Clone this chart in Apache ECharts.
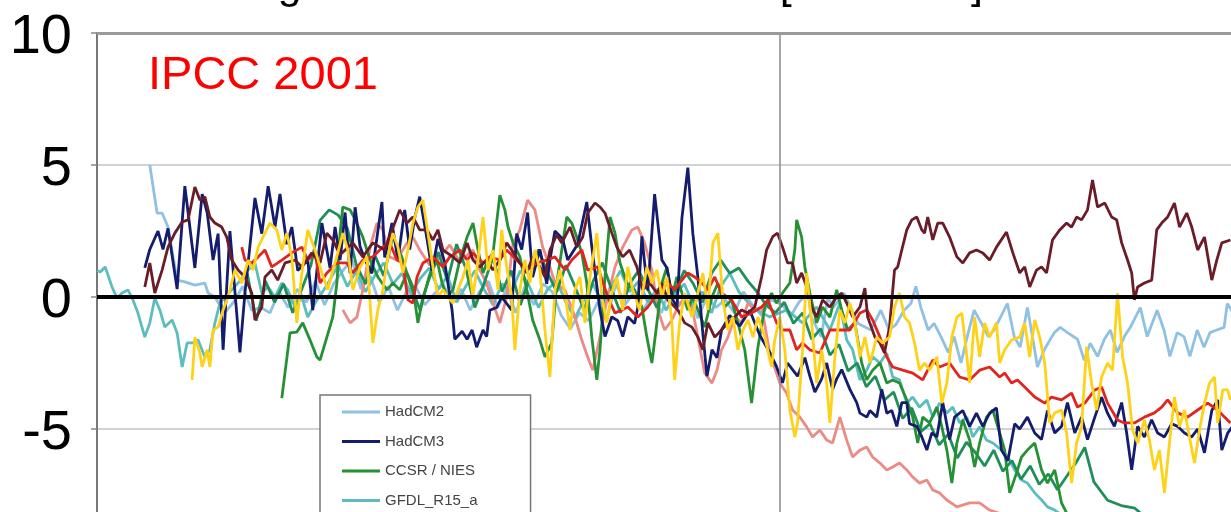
<!DOCTYPE html>
<html><head><meta charset="utf-8">
<script src="https://cdn.jsdelivr.net/npm/echarts@6/dist/echarts.min.js"></script>
<style>html,body{margin:0;padding:0;background:#fff;overflow:hidden}#chart{width:1231px;height:512px}</style>
</head><body><div id="chart"></div>
<script>
const titleText = 'Change in Arctic sea ice extent [1000 km²]';
const stampText = 'IPCC 2001';
const seriesNames = ['HadCM2', 'HadCM3', 'CCSR / NIES', 'GFDL_R15_a', 'CSIRO_Mk2', 'ECHAM4/OPYC3', 'CGCM1', 'NCAR_PCM', 'DOE_PCM'];
const legendNames = ['HadCM2', 'HadCM3', 'CCSR / NIES', 'GFDL_R15_a'];
const yMin = -10, yMax = 10, yStep = 5;
const xMin = 1850, xMax = 2100, markYear = 2000;

const hadcm2 = [[1861.6,5.0],[1863.2,3.18],[1864.3,3.18],[1865.6,2.65],[1867.6,0.64],[1869.3,0.57],[1871.5,0.45],[1873.7,0.53],[1874.4,0.15],[1875.9,0],
[1878,-0.6],[1880,-0.2],[1882,0.4],[1884,-0.5],[1886,-0.4],[1888,-0.6],[1890,0.2],[1892,-0.4],[1894,0.3],[1896,-0.2],[1898,0.6],[1900,-0.3],[1902,0.5],[1904,1.0],[1906,1.4],[1908,0.3],[1910,0.8],[1912,-0.2],[1914,0.4],[1916,-0.5],[1918,0.2],[1920,0.4],[1922,-0.3],[1924,0.1],[1926,0.5],[1928,-0.2],[1930,0.3],[1932,-0.5],[1934,0.2],[1936,0.6],[1938,-0.4],[1940,0.3],[1942,-0.6],[1944,0.4],[1946,-0.3],[1948,0.5],[1950,0.2],[1952,-0.7],[1954,-1.2],[1956,-0.6],[1958,-0.9],[1960,-0.2],[1962,-0.8],[1964,0.5],[1966,-0.3],[1968,0.2],[1970,-0.5],[1972,0.1],[1974,-0.6],[1976,0.4],[1978,-0.3],[1980,0.1],[1982,-0.8],[1984,0.0],[1986,-0.4],[1988,-0.1],[1990,-0.6],[1992,0.2],[1994,-0.3],[1996,-0.7],[1998,-0.1],
[2000.6,-0.3],[2002.3,-0.75],[2004.2,-0.2],[2006.2,0.15],[2006.9,-0.75],[2009.1,-1.5],[2010.6,0],[2011.7,-0.4],[2014.1,0.15],[2017.2,-1.0],[2020,-1.25],[2022.2,-0.5],[2024,-1.25],[2025.5,-1.05],[2027.3,-0.5],[2028.8,-0.25],[2029.9,0.4],[2031,-0.4],[2032.6,-1.25],[2033.9,-1.0],[2035.4,-1.5],[2037,-2.1],[2038.3,-1.5],[2039.8,-2.5],[2041.4,-1.35],[2042.7,-0.5],[2044.3,-1.0],[2045.8,-1.5],[2047.1,-1.25],[2047.8,-1.0],[2050,-0.25],[2051.5,-1.5],[2052.8,-1.9],[2054.4,-0.4],[2055.9,-1.9],[2056.6,-2.65],[2058.1,-2.0],[2060.3,-1.35],[2061.6,-1.15],[2063.2,-1.35],[2065.4,-1.6],[2066.9,-2.4],[2068.2,-1.75],[2069.8,-2.25],[2071.3,-1.6],[2072.6,-1.25],[2074.1,-2.1],[2075.7,-1.5],[2077,-1.15],[2079.2,-0.4],[2080.7,-1.5],[2082.9,-0.5],[2084.4,-1.25],[2085.7,-2.25],[2087.3,-1.35],[2088.8,-1.5],[2090.1,-2.25],[2091.7,-1.25],[2093.2,-1.9],[2094.5,-1.35],[2096,-1.25],[2097.6,-1.15],[2098.3,-0.25],[2099.6,-0.6]];

const hadcm3 = [[1860.5,1.1],[1861.6,1.8],[1863.4,2.5],[1864.5,1.8],[1865.6,2.6],[1867.6,0.3],[1869.3,4.2],[1871.5,1.1],[1873.1,3.9],[1874.2,3.2],[1875.5,1.4],[1876.6,2.4],[1877.7,-2.0],[1879.2,2.5],[1881.4,-2.1],[1882.5,0.15],[1884.7,3.75],[1886.2,2.4],[1887.6,4.2],[1889.1,2.65],[1890.2,3.9],[1891.7,2.0],[1892.8,2.65],[1894.1,1.0],[1896.3,1.4],[1897.4,-0.5],[1899.4,2.8],[1901.2,1.1],[1902.3,2.65],[1903.4,1.4],[1904.5,3.2],[1905.6,0.9],[1906.7,3.4],[1907.8,1.9],[1908.9,1.4],[1910.4,0.9],[1912.6,3.6],[1913.2,1.5],[1914.8,2.8],[1916.1,1.4],[1917.6,3.3],[1918.7,1.8],[1919.8,3.0],[1920.9,3.8],[1922.5,2.2],[1923.6,1.0],[1924.9,2.2],[1926.4,1.3],[1928.0,-0.5],[1928.6,-1.6],[1930.2,-1.3],[1931.3,-1.6],[1932.4,-1.25],[1933.4,-1.9],[1934.8,-1.25],[1935.6,-1.5],[1936.3,-0.5],[1937.8,-0.4],[1938.9,0],[1941.1,-0.5],[1942.2,2.4],[1943.3,1.8],[1944.6,3.2],[1945.7,0.75],[1947.3,1.8],[1948.8,0.5],[1949.5,1.4],[1950.6,2.5],[1952.3,2.2],[1953.4,1.4],[1955.6,2.0],[1957.6,3.6],[1958.7,1.9],[1960.5,-0.5],[1961.6,-1.5],[1963.1,-0.75],[1964.4,-0.9],[1965.5,-1.5],[1966.6,-0.75],[1968.1,-1.0],[1968.8,-0.4],[1969.7,2.3],[1970.3,1.3],[1971.0,0.25],[1972.5,3.9],[1974.1,1.4],[1975.2,1.1],[1976.5,-0.1],[1977.4,-0.4],[1978.5,3.0],[1979.8,4.9],[1980.9,2.4],[1982.0,0.75],[1983.1,-1.4],[1984.0,-3.0],[1985.1,-2.0],[1986.2,-2.3],[1987.2,-1.25],[1989.0,-0.7],[1991.2,-1.1],[1993.4,-0.5],[1995.6,-1.45],[1997.8,-2.1],[1999.3,-2.65],[2000.6,-3.25],[2001.7,-2.5],[2002.8,-2.75],[2003.9,-3.0],[2005.5,-2.3],[2006.6,-3.0],[2007.7,-3.6],[2009.2,-3.1],[2010.3,-2.5],[2011.6,-3.5],[2012.5,-3.1],[2013.6,-2.75],[2015.4,-3.5],[2016.9,-4.0],[2017.6,-4.4],[2019.1,-4.55],[2019.8,-4.3],[2021.3,-4.55],[2022.4,-3.5],[2023.5,-4.4],[2024.6,-4.3],[2025.7,-4.9],[2026.8,-4.0],[2027.9,-4.0],[2028.5,-4.8],[2030.1,-4.9],[2031.2,-5.3],[2032.3,-5.8],[2033.4,-5.15],[2034.5,-5.3],[2035.8,-4.0],[2037.3,-5.4],[2038.4,-4.55],[2040.2,-4.3],[2041.7,-4.9],[2043.2,-4.4],[2044.6,-4.9],[2046.1,-4.4],[2047.6,-4.2],[2048.7,-5.8],[2050.1,-6.2],[2051.6,-4.8],[2052.7,-5.0],[2054.4,-4.55],[2056.0,-5.15],[2057.5,-5.4],[2058.8,-4.3],[2060.4,-5.15],[2061.9,-4.9],[2063.2,-4.0],[2064.8,-5.15],[2066.3,-4.55],[2067.6,-5.4],[2069.2,-4.55],[2070.7,-3.8],[2072.0,-4.4],[2073.5,-4.9],[2075.1,-4.0],[2076.2,-5.15],[2077.3,-6.55],[2078.6,-4.9],[2080.1,-5.3],[2081.7,-4.65],[2083.0,-5.15],[2084.5,-5.3],[2086.1,-4.8],[2087.4,-4.9],[2088.9,-5.15],[2090.5,-5.3],[2091.8,-5.0],[2093.3,-5.9],[2094.9,-4.3],[2096.2,-3.9],[2097.1,-5.8],[2098.4,-5.15],[2099.5,-4.9]];

const ccsr = [[1890.6,-3.83],[1892.4,-1.36],[1893.9,-1.33],[1895.2,-0.98],[1896.8,-1.63],[1898.3,-2.27],[1899.0,-2.39],[1900.5,-1.52],[1901.8,-0.76],[1902.7,0.53],[1903.4,2.42],[1904.0,3.41],[1905.6,3.3],[1906.8,2.9],[1908.4,2.27],[1910.0,1.4],[1911.7,0.76],[1913.7,0.27],[1915.0,0.53],[1916.5,0.27],[1918.1,0.91],[1919.4,0.38],[1920.5,-0.98],[1921.6,0],[1923.1,0.76],[1924.7,1.4],[1925.8,0.53],[1926.9,0],[1928.2,0.27],[1929.7,1.4],[1931.3,2.27],[1932.6,2.8],[1933.7,1.78],[1934.8,0.91],[1935.9,1.4],[1937.0,1.67],[1938.5,3.86],[1939.6,3.3],[1940.3,2.65],[1941.4,2.05],[1942.9,1.52],[1944.4,0.27],[1945.7,-0.87],[1947.3,-1.63],[1948.4,-2.27],[1949.9,-1.74],[1951.0,0.53],[1952.1,1.78],[1953.2,3.03],[1954.3,2.8],[1955.4,2.27],[1956.5,1.67],[1957.6,0.53],[1958.7,-1.52],[1959.8,-3.14],[1960.5,-2.0],[1961.6,0.76],[1962.7,3.03],[1963.8,2.42],[1964.9,1.29],[1966.4,0.53],[1968.1,0.27],[1969.7,-0.38],[1970.8,-1.52],[1971.9,-2.5],[1973.0,-0.98],[1974.1,0.53],[1975.2,1.14],[1976.3,0],[1977.4,0.76],[1978.5,0.15],[1979.8,-0.49],[1980.9,0],[1982.0,-0.49],[1983.5,-1.14],[1985.1,0],[1986.4,0.53],[1987.9,-0.38],[1989.4,-0.11],[1990.8,-0.98],[1992.3,-2.0],[1993.8,-4.02],[1995.2,-1.89],[1996.7,-0.38],[1998.2,0.15],[1999.3,-0.23],[2000.6,0.15],[2002.2,0.53],[2003.3,1.78],[2003.7,2.92],[2004.8,2.27],[2005.5,1.14],[2006.6,0.15],[2008.1,-0.98],[2009.4,-0.38],[2011.0,-0.76],[2012.5,0.27],[2013.6,-0.49],[2014.9,-1.25],[2016.5,-0.98],[2018.0,-2.5],[2019.1,-3.14],[2020.4,-2.77],[2022.0,-2.5],[2023.5,-3.26],[2024.8,-3.14],[2026.3,-3.26],[2027.9,-3.9],[2029.2,-4.55],[2030.3,-5.53],[2031.4,-4.55],[2032.9,-4.77],[2034.5,-4.17],[2035.6,-4.92],[2036.7,-5.8],[2037.8,-7.05],[2038.9,-5.53],[2040.2,-4.66],[2041.7,-5.42],[2042.8,-6.44],[2043.9,-5.53],[2045.4,-4.55],[2046.8,-4.28],[2048.3,-5.15],[2049.4,-5.8],[2050.5,-7.42],[2052.0,-6.67],[2053.1,-6.06],[2054.4,-5.8],[2056.0,-5.53],[2057.5,-6.55],[2058.8,-7.05],[2060.4,-6.55],[2061.9,-7.8],[2063.0,-8.18],[2070,-8.8],[2080,-9.3],[2090,-9.6],[2100,-9.9]];

const gfdl = [[1850,1.0],[1850.7,0.95],[1851.8,1.14],[1853.3,0.38],[1854.4,-0.04],[1855.5,0.15],[1856.8,0.27],[1857.9,-0.11],[1859.0,-0.61],[1860.5,-1.52],[1861.6,-0.98],[1862.7,-0.04],[1863.8,-0.49],[1864.9,-1.14],[1866.5,-0.87],[1867.6,-1.36],[1868.7,-2.65],[1869.8,-1.74],[1871.1,-1.74],[1872.2,-1.63],[1873.7,-2.27],[1874.8,-2.0],[1875.9,-0.98],[1877.0,-0.23],[1878.1,0],[1879.6,0.27],[1881.0,0.53],[1883.2,1.02],[1884.7,1.29],[1886.2,0.15],[1887.6,0.38],[1889.1,0],[1890.6,0.53],[1891.9,0.27],[1893.5,-0.38],[1895.0,0],[1896.3,-0.76],[1897.9,-0.23],[1899.4,0.15],
[1901,0.6],[1903,1.2],[1905,0.4],[1907,1.0],[1909,0.2],[1911,0.8],[1913,1.3],[1915,0.5],[1917,0.9],[1919,0.1],[1921,0.7],[1923,1.1],[1925,0.3],[1927,0.8],[1929,-0.2],[1931,0.4],[1933,1.0],[1935,0.3],[1937,-0.3],[1939,0.5],[1941,0.2],[1943,1.0],[1945,0.4],[1947,-0.4],[1949,0.3],[1951,0.6],[1953,-0.2],[1955,-0.8],[1957,-0.1],[1959,0.5],[1961,-0.3],[1963,0.4],[1965,1.0],[1967,0.2],[1969,0.6],[1971,-0.2],[1973,0.3],[1975,-0.5],[1977,0.1],[1979,0.5],[1981,-0.3],[1983,0.2],[1985,-0.6],[1987,0.4],[1989,0.9],[1991,0.2],[1993,-0.2],[1995,-0.5],
[1997.8,-0.76],[2001.5,-0.49],[2005.0,-0.98],[2008.1,-0.38],[2011.0,-1.25],[2013.2,-0.23],[2014.7,-1.63],[2016.0,-2.0],[2017.6,-3.14],[2019.1,-2.77],[2020.4,-2.27],[2022.0,-2.5],[2023.5,-2.12],[2024.8,-3.03],[2026.3,-3.14],[2027.9,-4.02],[2029.2,-3.79],[2030.7,-4.17],[2032.3,-3.9],[2033.6,-4.55],[2035.1,-4.02],[2036.7,-4.39],[2038.0,-4.17],[2039.5,-4.77],[2041.1,-4.55],[2042.4,-5.3],[2043.9,-4.92],[2045.4,-5.42],[2046.8,-5.53],[2048.7,-5.8],[2050.1,-6.06],[2051.6,-6.55],[2053.1,-6.93],[2054.4,-7.05],[2056.0,-7.42],[2057.5,-7.69],[2058.8,-7.95],[2060.4,-8.07],[2063,-8.4],[2070,-8.9],[2080,-9.4],[2090,-9.7],[2100,-9.9]];

const csiro = [[1904.0,-0.49],[1905.6,-0.98],[1907.1,-0.76],[1908.4,0.27],[1910.0,1.89],[1911.5,2.8],[1912.8,2.54],[1914.3,1.52],[1915.9,1.4],[1918.1,2.05],[1919.4,2.27],[1920.9,1.78],[1923.1,1.2],[1925.3,1.5],[1927.5,1.97],[1929.7,1.33],[1932.6,1.78],[1934.1,1.02],[1935.6,0.53],[1937.0,-0.23],[1938.5,-0.98],[1940.0,0],[1941.4,2.05],[1942.9,2.54],[1944.6,3.67],[1946.2,3.3],[1947.9,1.89],[1949.5,1.14],[1950.6,0.53],[1952.8,0.27],[1955.0,-0.76],[1956.5,-1.63],[1957.8,-2.27],[1958.9,-2.77],[1960.5,-1.52],[1962.0,-0.11],[1963.8,1.14],[1965.5,1.89],[1967.5,2.54],[1968.8,2.65],[1970.3,2.05],[1971.9,1.02],[1973.2,-0.49],[1974.7,-1.25],[1976.3,-0.87],[1977.6,-0.38],[1979.1,0],[1980.7,-0.38],[1982.0,-1.52],[1983.5,-2.88],[1985.1,-3.26],[1986.2,-2.77],[1987.2,-2.0],[1988.6,-1.52],[1990.1,-0.76],[1991.6,-0.98],[1993.0,-0.23],[1994.5,-0.49],[1996.0,-0.38],[1997.8,-2.12],[2000.0,-3.26],[2001.5,-3.64],[2002.8,-4.28],[2004.4,-4.55],[2005.9,-4.92],[2007.2,-5.3],[2008.8,-5.04],[2010.3,-5.42],[2011.6,-5.53],[2013.2,-4.55],[2014.7,-5.42],[2016.0,-6.06],[2017.6,-5.8],[2019.1,-5.68],[2020.4,-6.06],[2022.0,-6.29],[2023.5,-6.55],[2024.8,-6.44],[2026.3,-6.29],[2027.9,-6.55],[2029.2,-6.82],[2030.7,-7.05],[2032.3,-6.93],[2033.6,-7.31],[2035.1,-7.42],[2036.7,-7.69],[2038.9,-7.95],[2041.7,-7.8],[2043.9,-7.8],[2046.1,-8.07],[2055,-8.6],[2070,-9.2],[2085,-9.6],[2100,-9.9]];

const echam4 = [[1860.5,0.38],[1861.6,1.29],[1862.7,0.15],[1864.3,1.02],[1865.6,1.89],[1867.1,2.42],[1868.7,2.84],[1870.0,2.92],[1871.5,4.17],[1872.6,3.67],[1873.7,3.79],[1874.8,3.03],[1875.9,2.8],[1877.4,2.65],[1878.5,2.27],[1879.6,1.4],[1881.0,1.02],[1882.5,0.76],[1884.0,0.15],[1884.7,-0.87],[1886.2,-0.38],[1886.9,0.76],[1888.4,1.02],[1889.7,0.64],[1891.3,1.29],[1893.5,1.4],[1895.0,1.14],[1897.2,1.67],[1899.0,1.29],[1900.5,2.42],[1901.8,2.16],[1903.4,1.6],[1906.2,2.05],[1908.4,1.52],[1910.6,2.05],[1913.2,1.78],[1916.5,3.3],[1918.1,2.8],[1919.4,3.03],[1920.9,2.54],[1922.5,2.54],[1923.8,2.16],[1924.9,2.54],[1926.0,1.78],[1928.2,1.52],[1929.7,1.29],[1931.3,2.05],[1932.6,1.4],[1934.1,1.14],[1935.6,1.4],[1937.0,1.02],[1938.5,1.4],[1940.0,2.05],[1941.1,1.78],[1942.9,1.29],[1944.4,0.91],[1945.7,1.52],[1947.3,1.14],[1948.4,0.76],[1949.5,1.78],[1951.0,2.35],[1952.1,2.05],[1953.9,2.65],[1955.4,1.89],[1956.7,2.27],[1957.8,3.18],[1959.4,3.56],[1960.5,3.41],[1961.6,3.18],[1963.1,2.42],[1964.2,1.89],[1965.5,1.52],[1967.0,1.78],[1968.6,1.14],[1969.9,0.27],[1971.4,0.53],[1973.0,0.15],[1974.1,0.53],[1975.4,-0.11],[1977.6,-0.49],[1979.1,-0.98],[1980.7,-1.14],[1982.0,-1.52],[1983.1,-2.0],[1984.2,-0.98],[1985.7,-1.52],[1987.2,-1.25],[1988.6,-0.98],[1990.1,-0.76],[1991.6,-0.49],[1993.0,-0.61],[1994.5,-0.38],[1996.0,0.76],[1997.1,1.78],[1998.5,2.3],[1999.5,2.42],[2000.6,1.89],[2001.7,1.29],[2002.8,1.29],[2003.7,0.53],[2004.8,0.91],[2005.9,0.38],[2007.0,-0.38],[2008.1,-0.76],[2009.4,-0.11],[2011.0,-0.38],[2012.5,0],[2013.6,0.15],[2014.7,-0.23],[2016.0,-0.76],[2017.6,-0.38],[2018.7,0.34],[2019.3,-0.76],[2020.9,-1.52],[2022.0,-1.74],[2023.0,-2.12],[2024.1,-1.14],[2025.2,1.02],[2025.9,1.14],[2026.8,1.78],[2027.9,2.54],[2029.0,2.92],[2030.1,3.03],[2031.2,2.54],[2031.8,2.42],[2032.5,3.03],[2033.6,2.16],[2034.7,2.8],[2035.8,2.8],[2037.3,2.27],[2038.9,1.52],[2040.2,1.29],[2041.7,1.67],[2043.2,1.78],[2044.6,1.67],[2046.1,1.4],[2047.6,1.89],[2049.8,2.46],[2051.2,1.67],[2052.7,0.91],[2053.8,1.14],[2054.9,0.38],[2056.4,1.02],[2057.5,1.14],[2058.6,0.91],[2059.9,2.16],[2061.5,2.54],[2063.0,2.8],[2064.1,2.65],[2065.2,3.03],[2066.3,2.92],[2067.6,3.3],[2068.7,4.43],[2069.8,3.41],[2071.4,3.56],[2072.9,3.03],[2074.0,2.92],[2075.1,2.05],[2076.4,1.4],[2077.3,0.91],[2077.9,-0.11],[2078.6,0.38],[2080.1,0.53],[2081.7,0.64],[2082.8,2.54],[2083.9,2.8],[2085.2,3.03],[2086.7,3.56],[2087.8,2.65],[2089.4,3.18],[2090.5,2.65],[2091.8,1.78],[2093.3,2.27],[2094.9,0.64],[2096.0,1.4],[2097.1,2.05],[2099.0,2.16]];

const cgcm1 = [[1881.8,1.89],[1882.5,1.4],[1884.0,1.29],[1885.4,1.52],[1886.9,1.78],[1888.4,1.14],[1890.6,1.4],[1892.8,1.67],[1895.0,1.89],[1896.3,1.4],[1897.9,1.67],[1899.0,0.53],[1900.5,0.91],[1902.7,1.29],[1904.9,1.29],[1906.2,0.91],[1908.4,1.4],[1910.6,1.52],[1912.8,1.89],[1914.3,2.05],[1915.9,1.4],[1917.2,1.29],[1918.3,-0.11],[1919.4,-0.23],[1920.3,0.76],[1921.6,1.29],[1923.8,1.52],[1926.0,1.14],[1927.5,1.52],[1929.7,1.78],[1931.3,1.4],[1932.6,1.67],[1934.8,1.29],[1936.3,1.52],[1938.5,1.4],[1940.0,1.78],[1942.2,1.4],[1944.4,1.02],[1946.6,1.29],[1948.8,1.4],[1950.6,1.52],[1952.8,1.02],[1954.3,1.4],[1956.5,1.78],[1957.8,1.02],[1960.0,1.14],[1962.2,0],[1963.8,-0.61],[1965.3,-0.49],[1966.6,-0.38],[1968.8,-0.76],[1971.0,-0.38],[1973.2,0.15],[1975.4,0.53],[1976.9,0.27],[1978.5,0.64],[1979.8,0.91],[1981.3,0.76],[1982.9,0.53],[1984.2,0.27],[1985.7,0.76],[1987.2,0.15],[1989.4,-0.11],[1991.6,-0.76],[1993.8,-0.61],[1996.0,-0.38],[1997.4,-0.11],[1999.3,-0.98],[2000.6,-1.25],[2002.2,-1.25],[2003.7,-2.0],[2005.0,-1.74],[2006.6,-2.0],[2008.8,-2.12],[2011.0,-1.25],[2013.2,-1.25],[2015.4,-1.25],[2017.6,-0.61],[2019.1,-0.49],[2020.4,-0.87],[2022.0,-1.52],[2023.5,-2.27],[2024.8,-2.65],[2027.0,-2.77],[2029.2,-2.88],[2031.4,-3.14],[2033.6,-2.39],[2035.1,-2.65],[2037.3,-2.5],[2039.5,-3.03],[2041.7,-3.14],[2043.9,-2.77],[2046.1,-2.65],[2048.3,-3.03],[2049.4,-2.88],[2050.9,-3.26],[2052.2,-3.14],[2053.8,-3.41],[2056.0,-3.79],[2058.2,-4.02],[2059.7,-3.79],[2061.9,-3.9],[2064.1,-3.64],[2065.4,-4.17],[2067.0,-4.02],[2069.2,-3.52],[2070.7,-3.41],[2072.0,-4.02],[2074.2,-4.66],[2075.7,-4.77],[2077.9,-4.77],[2080.1,-4.55],[2082.3,-4.39],[2083.9,-4.17],[2085.2,-3.9],[2087.4,-4.39],[2089.6,-4.55],[2091.8,-4.28],[2094.0,-4.02],[2096.2,-4.28],[2097.7,-4.55],[2099.0,-4.77]];

const ncar = [[1870.9,-3.14],[1871.5,-1.52],[1872.6,-2.12],[1873.1,-2.65],[1874.2,-2.0],[1874.8,-2.65],[1875.5,-1.25],[1876.6,-1.14],[1877.7,-0.49],[1878.8,0],[1880.3,1.02],[1881.8,0.53],[1883.2,1.4],[1884.3,1.02],[1885.4,1.89],[1886.9,2.42],[1888.0,2.8],[1889.5,2.54],[1890.6,1.78],[1891.7,2.42],[1892.8,1.52],[1893.9,-0.98],[1895.0,0.91],[1896.3,2.54],[1897.9,1.78],[1899.4,0.91],[1900.7,0.27],[1901.8,1.02],[1902.9,1.67],[1904.0,2.42],[1905.1,1.78],[1906.2,0.27],[1907.8,1.14],[1909.3,1.52],[1910.6,-1.74],[1911.7,-0.49],[1912.8,0.27],[1913.9,1.52],[1915.0,2.42],[1916.1,1.89],[1917.2,0.91],[1918.3,1.78],[1919.4,2.8],[1920.5,3.41],[1921.6,3.67],[1922.7,2.42],[1923.8,1.14],[1924.9,0],[1926.0,0.27],[1927.1,0],[1928.2,-0.23],[1929.3,0.27],[1930.4,0.76],[1931.5,1.4],[1932.6,0],[1933.7,1.4],[1934.8,3.03],[1935.9,1.02],[1937.0,1.78],[1938.1,0.27],[1938.9,2.54],[1940.0,1.14],[1941.1,0],[1941.8,-2.0],[1942.9,0.27],[1944.0,1.4],[1945.1,0.53],[1946.2,1.78],[1947.3,1.02],[1948.4,-1.25],[1949.5,-3.03],[1950.6,0.27],[1951.7,1.02],[1952.8,0.15],[1953.9,-1.25],[1955.0,0.27],[1956.1,0.76],[1957.2,-0.98],[1958.3,0.76],[1959.8,2.42],[1960.9,0],[1962.0,-0.98],[1963.1,0.15],[1964.2,0.76],[1965.5,-0.49],[1966.6,1.14],[1967.7,0.27],[1969.2,-0.49],[1970.8,1.14],[1971.9,0.53],[1973.0,1.02],[1974.1,0],[1975.2,0.76],[1976.3,-0.98],[1976.9,-3.14],[1978.0,-0.98],[1979.1,0.15],[1980.7,-0.76],[1982.0,0.15],[1983.1,0.91],[1984.2,-0.49],[1985.3,2.05],[1986.4,2.42],[1987.5,-0.11],[1988.6,-1.25],[1989.7,-0.76],[1990.8,-2.0],[1991.9,-1.25],[1993.0,-0.87],[1994.1,-1.52],[1995.2,-0.76],[1996.7,-1.52],[1998.2,-2.65],[1998.9,-1.63],[2000.0,-0.76],[2001.1,-2.0],[2002.2,-4.28],[2003.3,-5.3],[2003.9,-4.77],[2005.0,-2.0],[2005.9,0.91],[2007.0,-0.98],[2008.1,-3.26],[2009.2,-2.0],[2010.3,-3.26],[2011.0,-4.77],[2012.1,-2.27],[2013.2,-0.49],[2014.3,-0.98],[2015.4,-0.23],[2016.5,-0.98],[2017.6,-2.27],[2018.7,-1.52],[2019.8,-2.5],[2021.3,-1.52],[2022.6,-1.74],[2024.1,-1.52],[2025.2,-0.38],[2026.3,0.15],[2027.4,-0.76],[2028.5,-0.98],[2029.6,-1.74],[2030.7,-2.77],[2031.8,-2.5],[2032.9,-2.77],[2034.5,-2.27],[2035.6,-4.02],[2036.7,-3.26],[2037.8,-1.52],[2038.9,-0.76],[2040.0,-0.61],[2041.1,-2.27],[2041.7,-3.26],[2042.8,-0.76],[2043.9,-2.27],[2045.0,-0.98],[2046.1,-1.52],[2047.6,-0.98],[2048.3,-2.5],[2049.4,-2.0],[2050.9,-1.63],[2052.7,-1.52],[2053.8,-0.98],[2054.9,-2.27],[2056.0,-0.87],[2057.1,-1.52],[2058.2,-2.5],[2059.3,-4.77],[2060.4,-4.39],[2061.9,-4.28],[2063.0,-5.15],[2064.1,-7.05],[2065.2,-5.53],[2066.3,-4.92],[2067.4,-1.89],[2068.5,-3.26],[2069.6,-4.28],[2070.7,-3.03],[2072.0,-2.5],[2073.1,-2.77],[2074.2,0.15],[2075.3,-2.27],[2076.4,-3.26],[2077.5,-5.04],[2078.6,-5.53],[2080.1,-4.66],[2081.2,-5.42],[2082.3,-6.55],[2083.4,-5.8],[2084.5,-7.42],[2085.6,-5.53],[2086.7,-3.79],[2087.8,-4.92],[2088.9,-4.28],[2090.0,-5.3],[2091.1,-6.29],[2092.2,-5.04],[2093.3,-4.02],[2094.4,-3.26],[2095.5,-3.03],[2096.2,-4.77],[2097.3,-3.52],[2098.4,-3.52],[2099.0,-3.9]];

const doepcm = [[1883,0.9],[1885,-0.9],[1887,0.6],[1889,-0.2],[1891,0.5],[1893,-0.6],[1895,0.3],[1897,1.2],[1899,2.9],[1901,3.3],[1903,3.1],[1905,2.6],[1907,1.2],[1909,0.5],[1911,1.6],[1913,0.8],[1915,2.3],[1917,1.5],[1919,0.4],[1921,-0.5],[1923,0.8],[1925,1.7],[1927,0.6],[1929,2.0],[1931,1.1],[1933,-0.4],[1935,0.5],[1937,1.5],[1939,0.2],[1941,1.0],[1943,-0.3],[1945,0.7],[1947,1.8],[1949,0.9],[1951,0.2],[1953,1.2],[1955,0.4],[1957,-0.5],[1959,0.6],[1961,1.3],[1963,0.3],[1965,-0.6],[1967,0.5],[1969,1.0],[1971,0.3],[1973,-0.4],[1975,0.6],[1977,0.2],[1979,1.0],[1981,0.5],[1983,-0.2],[1985,0.9],[1987,1.4],[1989,0.9],[1991,1.1],[1993,0.6],[1995,0.2],[1997,-0.3],[1999,-0.6],[2001,-0.2],[2003,-1.0],[2005,-0.6],[2007,-1.6],[2009,-1.2],[2011,-2.2],[2013,-1.8],[2015,-2.8],[2017,-2.5],[2019,-3.4],[2021,-3.0],[2023,-3.9],[2025,-3.6],[2027,-4.6],[2029,-4.2],[2031,-5.1],[2033,-4.8],[2035,-5.6],[2037,-5.2],[2039,-6.1],[2041,-5.5],[2043,-5.9],[2045,-6.4],[2047,-5.8],[2049,-6.6],[2051,-6.2],[2053,-6.9],[2055,-6.4],[2057,-7.1],[2059,-6.7],[2061,-7.3],[2063,-6.8],[2065,-6.3],[2067,-5.7],[2069,-7.0],[2072,-7.7],[2075,-7.9],[2078,-8.0],[2080,-8.3],[2090,-8.8],[2100,-9.2]];

const seriesData = {
  'HadCM2': hadcm2, 'HadCM3': hadcm3, 'CCSR / NIES': ccsr, 'GFDL_R15_a': gfdl,
  'CSIRO_Mk2': csiro, 'ECHAM4/OPYC3': echam4, 'CGCM1': cgcm1, 'NCAR_PCM': ncar, 'DOE_PCM': doepcm
};
const seriesColors = {
  'HadCM2': '#8fc1e3', 'HadCM3': '#141c6e', 'CCSR / NIES': '#259034', 'GFDL_R15_a': '#5cbdbf',
  'CSIRO_Mk2': '#ec8b85', 'ECHAM4/OPYC3': '#6a1c28', 'CGCM1': '#e0251f', 'NCAR_PCM': '#ffd21a', 'DOE_PCM': '#1f8f5a'
};
const drawOrder = ['HadCM2', 'GFDL_R15_a', 'CSIRO_Mk2', 'DOE_PCM', 'CCSR / NIES', 'HadCM3', 'CGCM1', 'ECHAM4/OPYC3', 'NCAR_PCM'];

const chart = echarts.init(document.getElementById('chart'), null, {renderer: 'canvas'});
const series = drawOrder.map((name, i) => {
  const s = {
    name: name, type: 'line', data: seriesData[name], symbol: 'none', showSymbol: false, smooth: false,
    lineStyle: {color: seriesColors[name], width: 2.8},
    itemStyle: {color: seriesColors[name]},
    animation: false, silent: true
  };
  if (i === 0) {
    s.markLine = {
      silent: true, symbol: ['none', 'none'], label: {show: false}, animation: false,
      data: [
        {xAxis: markYear, lineStyle: {color: '#8a8a8a', width: 1.5, type: 'solid'}},
        {yAxis: yMax, lineStyle: {color: '#9a9a9a', width: 3, type: 'solid'}},
        {yAxis: 0, lineStyle: {color: '#000', width: 4, type: 'solid'}}
      ]
    };
  }
  return s;
});

chart.setOption({
  animation: false,
  backgroundColor: '#fff',
  grid: {left: 97, right: -4, top: 33, bottom: -49, containLabel: false, outerBoundsMode: 'none'},
  xAxis: {type: 'value', min: xMin, max: xMax, show: false},
  yAxis: {
    type: 'value', min: yMin, max: yMax, interval: yStep,
    axisLine: {show: true, lineStyle: {color: '#777', width: 2}},
    axisTick: {show: true, length: 6, lineStyle: {color: '#888', width: 1.5}},
    axisLabel: {margin: 25, color: '#000', fontSize: 56, verticalAlign: 'top', lineHeight: 10, fontFamily: 'Liberation Sans, Arial, sans-serif'},
    splitLine: {show: true, lineStyle: {color: '#d2d2d2', width: 2}}
  },
  legend: {
    data: legendNames, orient: 'vertical', left: 320, top: 395, height: 200,
    padding: [9, 53, 20, 22], itemWidth: 38, itemHeight: 3, itemGap: 13.5, icon: 'rect',
    backgroundColor: '#fff', borderColor: '#777', borderWidth: 1.5,
    textStyle: {color: '#444', fontSize: 15, lineHeight: 16, fontFamily: 'Liberation Sans, Arial, sans-serif'},
    selectedMode: false
  },
  graphic: [
    {type: 'text', x: 148, y: 76, style: {text: stampText, fill: '#ff0000', font: '47px "Liberation Sans", Arial, sans-serif', verticalAlign: 'middle'}},
    {type: 'text', x: 175, y: -14, style: {text: titleText, fill: '#000', font: '43px "Liberation Sans", Arial, sans-serif', verticalAlign: 'middle'}}
  ],
  series: series
});
</script></body></html>
